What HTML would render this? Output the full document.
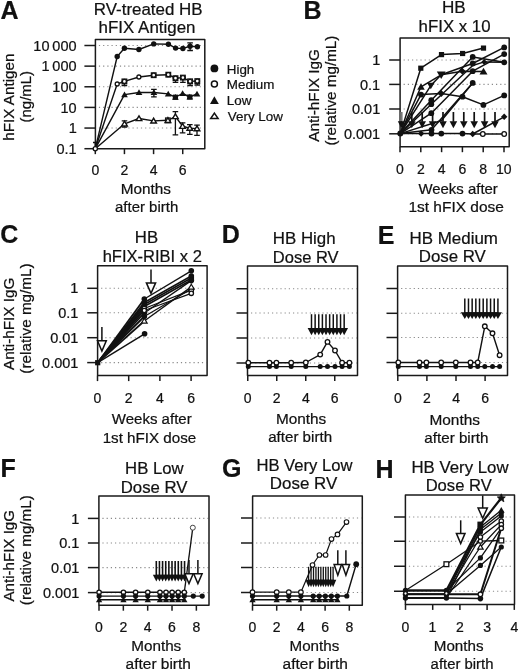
<!DOCTYPE html><html><head><meta charset="utf-8"><style>html,body{margin:0;padding:0;background:#fff;}svg{display:block;will-change:transform;} text{stroke:#111;stroke-width:0.22px;} svg{font-family:"Liberation Sans",sans-serif;}</style></head><body>
<svg width="520" height="672" viewBox="0 0 520 672">
<rect width="520" height="672" fill="#fff"/>
<text x="0.52" y="19.1" font-size="25" font-weight="bold" fill="#111">A</text>
<text x="303.51" y="18.8" font-size="25" font-weight="bold" fill="#111">B</text>
<text x="0.20" y="242.9" font-size="25" font-weight="bold" fill="#111">C</text>
<text x="221.71" y="243.2" font-size="25" font-weight="bold" fill="#111">D</text>
<text x="377.81" y="243.7" font-size="25" font-weight="bold" fill="#111">E</text>
<text x="0.61" y="477" font-size="25" font-weight="bold" fill="#111">F</text>
<text x="221.90" y="477.2" font-size="25" font-weight="bold" fill="#111">G</text>
<text x="375.61" y="478" font-size="25" font-weight="bold" fill="#111">H</text>
<line x1="98.9" y1="45.5" x2="204.0" y2="45.5" stroke="#8a8a8a" stroke-width="1.1" stroke-dasharray="1.2 3"/>
<line x1="98.9" y1="66.14" x2="204.0" y2="66.14" stroke="#8a8a8a" stroke-width="1.1" stroke-dasharray="1.2 3"/>
<line x1="98.9" y1="86.78" x2="204.0" y2="86.78" stroke="#8a8a8a" stroke-width="1.1" stroke-dasharray="1.2 3"/>
<line x1="98.9" y1="107.42" x2="204.0" y2="107.42" stroke="#8a8a8a" stroke-width="1.1" stroke-dasharray="1.2 3"/>
<line x1="98.9" y1="128.06" x2="204.0" y2="128.06" stroke="#8a8a8a" stroke-width="1.1" stroke-dasharray="1.2 3"/>
<rect x="95.4" y="39.5" width="109.4" height="109.15" fill="none" stroke="#1a1a1a" stroke-width="1.5" stroke-linejoin="round"/>
<line x1="84.4" y1="45.5" x2="95.4" y2="45.5" stroke="#1a1a1a" stroke-width="1.5"/>
<text x="33.33" y="50.60" font-size="14.50" fill="#111">10 000</text>
<line x1="84.4" y1="66.14" x2="95.4" y2="66.14" stroke="#1a1a1a" stroke-width="1.5"/>
<text x="41.42" y="71.24" font-size="14.50" fill="#111">1 000</text>
<line x1="84.4" y1="86.78" x2="95.4" y2="86.78" stroke="#1a1a1a" stroke-width="1.5"/>
<text x="52.37" y="91.88" font-size="14.50" fill="#111">100</text>
<line x1="84.4" y1="107.42" x2="95.4" y2="107.42" stroke="#1a1a1a" stroke-width="1.5"/>
<text x="60.45" y="112.52" font-size="14.50" fill="#111">10</text>
<line x1="84.4" y1="128.06" x2="95.4" y2="128.06" stroke="#1a1a1a" stroke-width="1.5"/>
<text x="68.64" y="133.16" font-size="14.50" fill="#111">1</text>
<line x1="84.4" y1="148.7" x2="95.4" y2="148.7" stroke="#1a1a1a" stroke-width="1.5"/>
<text x="56.53" y="153.80" font-size="14.50" fill="#111">0.1</text>
<line x1="95.3" y1="148.65" x2="95.3" y2="154.15" stroke="#1a1a1a" stroke-width="1.5"/>
<text x="91.40" y="175.40" font-size="14.00" fill="#111">0</text>
<line x1="124.44" y1="148.65" x2="124.44" y2="154.15" stroke="#1a1a1a" stroke-width="1.5"/>
<text x="120.55" y="175.40" font-size="14.00" fill="#111">2</text>
<line x1="153.57999999999998" y1="148.65" x2="153.57999999999998" y2="154.15" stroke="#1a1a1a" stroke-width="1.5"/>
<text x="149.73" y="175.40" font-size="14.00" fill="#111">4</text>
<line x1="182.72" y1="148.65" x2="182.72" y2="154.15" stroke="#1a1a1a" stroke-width="1.5"/>
<text x="178.78" y="175.40" font-size="14.00" fill="#111">6</text>
<text x="93.80" y="14.80" font-size="16.93" font-weight="normal" fill="#111">RV-treated HB</text>
<text x="98.61" y="32.70" font-size="16.93" font-weight="normal" fill="#111">hFIX Antigen</text>
<text x="120.63" y="194.30" font-size="15.34" font-weight="normal" fill="#111">Months</text>
<text x="115.06" y="212.30" font-size="14.96" font-weight="normal" fill="#111">after birth</text>
<text transform="translate(13.50,140.67) rotate(-90)" font-size="15.23" font-weight="normal" fill="#111">hFIX Antigen</text>
<text transform="translate(30.80,122.43) rotate(-90)" font-size="14.93" font-weight="normal" fill="#111">(ng/mL)</text>
<line x1="403.6" y1="60" x2="508.4" y2="60" stroke="#8a8a8a" stroke-width="1.1" stroke-dasharray="1.2 3"/>
<line x1="403.6" y1="84.4" x2="508.4" y2="84.4" stroke="#8a8a8a" stroke-width="1.1" stroke-dasharray="1.2 3"/>
<line x1="403.6" y1="109.0" x2="508.4" y2="109.0" stroke="#8a8a8a" stroke-width="1.1" stroke-dasharray="1.2 3"/>
<line x1="403.6" y1="133.8" x2="508.4" y2="133.8" stroke="#8a8a8a" stroke-width="1.1" stroke-dasharray="1.2 3"/>
<rect x="400.1" y="37.9" width="109.09999999999997" height="108.79999999999998" fill="none" stroke="#1a1a1a" stroke-width="1.5" stroke-linejoin="round"/>
<line x1="389.2" y1="60" x2="400.1" y2="60" stroke="#1a1a1a" stroke-width="1.5"/>
<text x="372.14" y="65.10" font-size="14.50" fill="#111">1</text>
<line x1="389.2" y1="84.4" x2="400.1" y2="84.4" stroke="#1a1a1a" stroke-width="1.5"/>
<text x="360.03" y="89.50" font-size="14.50" fill="#111">0.1</text>
<line x1="389.2" y1="109.0" x2="400.1" y2="109.0" stroke="#1a1a1a" stroke-width="1.5"/>
<text x="351.99" y="114.10" font-size="14.50" fill="#111">0.01</text>
<line x1="389.2" y1="133.8" x2="400.1" y2="133.8" stroke="#1a1a1a" stroke-width="1.5"/>
<text x="343.90" y="138.90" font-size="14.50" fill="#111">0.001</text>
<line x1="400.0" y1="146.7" x2="400.0" y2="152.2" stroke="#1a1a1a" stroke-width="1.5"/>
<text x="396.10" y="173.80" font-size="14.00" fill="#111">0</text>
<line x1="420.8" y1="146.7" x2="420.8" y2="152.2" stroke="#1a1a1a" stroke-width="1.5"/>
<text x="416.92" y="173.80" font-size="14.00" fill="#111">2</text>
<line x1="441.6" y1="146.7" x2="441.6" y2="152.2" stroke="#1a1a1a" stroke-width="1.5"/>
<text x="437.75" y="173.80" font-size="14.00" fill="#111">4</text>
<line x1="462.4" y1="146.7" x2="462.4" y2="152.2" stroke="#1a1a1a" stroke-width="1.5"/>
<text x="458.46" y="173.80" font-size="14.00" fill="#111">6</text>
<line x1="483.2" y1="146.7" x2="483.2" y2="152.2" stroke="#1a1a1a" stroke-width="1.5"/>
<text x="479.31" y="173.80" font-size="14.00" fill="#111">8</text>
<line x1="504.0" y1="146.7" x2="504.0" y2="152.2" stroke="#1a1a1a" stroke-width="1.5"/>
<text x="495.97" y="173.80" font-size="14.00" fill="#111">10</text>
<text x="441.89" y="13.30" font-size="17.13" font-weight="normal" fill="#111">HB</text>
<text x="418.62" y="32.10" font-size="16.82" font-weight="normal" fill="#111">hFIX x 10</text>
<text x="418.43" y="194.00" font-size="14.95" font-weight="normal" fill="#111">Weeks after</text>
<text x="408.44" y="211.50" font-size="15.48" font-weight="normal" fill="#111">1st hFIX dose</text>
<text transform="translate(318.60,141.64) rotate(-90)" font-size="15.30" font-weight="normal" fill="#111">Anti-hFIX IgG</text>
<text transform="translate(335.50,145.55) rotate(-90)" font-size="15.23" font-weight="normal" fill="#111">(relative mg/mL)</text>
<line x1="101.1" y1="288.3" x2="206.29999999999998" y2="288.3" stroke="#8a8a8a" stroke-width="1.1" stroke-dasharray="1.2 3"/>
<line x1="101.1" y1="312.8" x2="206.29999999999998" y2="312.8" stroke="#8a8a8a" stroke-width="1.1" stroke-dasharray="1.2 3"/>
<line x1="101.1" y1="337.7" x2="206.29999999999998" y2="337.7" stroke="#8a8a8a" stroke-width="1.1" stroke-dasharray="1.2 3"/>
<line x1="101.1" y1="362.6" x2="206.29999999999998" y2="362.6" stroke="#8a8a8a" stroke-width="1.1" stroke-dasharray="1.2 3"/>
<rect x="97.6" y="265.8" width="109.5" height="109.80000000000001" fill="none" stroke="#1a1a1a" stroke-width="1.5" stroke-linejoin="round"/>
<line x1="87.2" y1="288.3" x2="97.6" y2="288.3" stroke="#1a1a1a" stroke-width="1.5"/>
<text x="70.34" y="293.40" font-size="14.50" fill="#111">1</text>
<line x1="87.2" y1="312.8" x2="97.6" y2="312.8" stroke="#1a1a1a" stroke-width="1.5"/>
<text x="58.23" y="317.90" font-size="14.50" fill="#111">0.1</text>
<line x1="87.2" y1="337.7" x2="97.6" y2="337.7" stroke="#1a1a1a" stroke-width="1.5"/>
<text x="50.19" y="342.80" font-size="14.50" fill="#111">0.01</text>
<line x1="87.2" y1="362.6" x2="97.6" y2="362.6" stroke="#1a1a1a" stroke-width="1.5"/>
<text x="42.10" y="367.70" font-size="14.50" fill="#111">0.001</text>
<line x1="97.5" y1="375.6" x2="97.5" y2="381.1" stroke="#1a1a1a" stroke-width="1.5"/>
<text x="93.60" y="402.80" font-size="14.00" fill="#111">0</text>
<line x1="128.7" y1="375.6" x2="128.7" y2="381.1" stroke="#1a1a1a" stroke-width="1.5"/>
<text x="124.81" y="402.80" font-size="14.00" fill="#111">2</text>
<line x1="159.9" y1="375.6" x2="159.9" y2="381.1" stroke="#1a1a1a" stroke-width="1.5"/>
<text x="156.05" y="402.80" font-size="14.00" fill="#111">4</text>
<line x1="191.1" y1="375.6" x2="191.1" y2="381.1" stroke="#1a1a1a" stroke-width="1.5"/>
<text x="187.16" y="402.80" font-size="14.00" fill="#111">6</text>
<text x="134.82" y="243.00" font-size="16.73" font-weight="normal" fill="#111">HB</text>
<text x="102.64" y="261.50" font-size="16.55" font-weight="normal" fill="#111">hFIX-RIBI x 2</text>
<text x="111.82" y="424.20" font-size="15.03" font-weight="normal" fill="#111">Weeks after</text>
<text x="102.66" y="442.70" font-size="15.18" font-weight="normal" fill="#111">1st hFIX dose</text>
<text transform="translate(13.80,370.04) rotate(-90)" font-size="15.25" font-weight="normal" fill="#111">Anti-hFIX IgG</text>
<text transform="translate(30.80,373.66) rotate(-90)" font-size="15.28" font-weight="normal" fill="#111">(relative mg/mL)</text>
<line x1="251.0" y1="288.75" x2="356.7" y2="288.75" stroke="#8a8a8a" stroke-width="1.1" stroke-dasharray="1.2 3"/>
<line x1="251.0" y1="313" x2="356.7" y2="313" stroke="#8a8a8a" stroke-width="1.1" stroke-dasharray="1.2 3"/>
<line x1="251.0" y1="338" x2="356.7" y2="338" stroke="#8a8a8a" stroke-width="1.1" stroke-dasharray="1.2 3"/>
<line x1="251.0" y1="363" x2="356.7" y2="363" stroke="#8a8a8a" stroke-width="1.1" stroke-dasharray="1.2 3"/>
<rect x="247.5" y="266" width="110.0" height="109.39999999999998" fill="none" stroke="#1a1a1a" stroke-width="1.5" stroke-linejoin="round"/>
<line x1="236.5" y1="288.75" x2="247.5" y2="288.75" stroke="#1a1a1a" stroke-width="1.5"/>
<line x1="236.5" y1="313" x2="247.5" y2="313" stroke="#1a1a1a" stroke-width="1.5"/>
<line x1="236.5" y1="338" x2="247.5" y2="338" stroke="#1a1a1a" stroke-width="1.5"/>
<line x1="236.5" y1="363" x2="247.5" y2="363" stroke="#1a1a1a" stroke-width="1.5"/>
<line x1="247.75" y1="375.4" x2="247.75" y2="380.9" stroke="#1a1a1a" stroke-width="1.5"/>
<text x="243.85" y="402.90" font-size="14.00" fill="#111">0</text>
<line x1="276.75" y1="375.4" x2="276.75" y2="380.9" stroke="#1a1a1a" stroke-width="1.5"/>
<text x="272.87" y="402.90" font-size="14.00" fill="#111">2</text>
<line x1="305.75" y1="375.4" x2="305.75" y2="380.9" stroke="#1a1a1a" stroke-width="1.5"/>
<text x="301.90" y="402.90" font-size="14.00" fill="#111">4</text>
<line x1="334.75" y1="375.4" x2="334.75" y2="380.9" stroke="#1a1a1a" stroke-width="1.5"/>
<text x="330.81" y="402.90" font-size="14.00" fill="#111">6</text>
<text x="272.81" y="243.90" font-size="16.88" font-weight="normal" fill="#111">HB High</text>
<text x="272.84" y="262.80" font-size="16.52" font-weight="normal" fill="#111">Dose RV</text>
<text x="276.03" y="424.20" font-size="15.34" font-weight="normal" fill="#111">Months</text>
<text x="268.16" y="442.40" font-size="15.13" font-weight="normal" fill="#111">after birth</text>
<line x1="401.1" y1="288.5" x2="506.7" y2="288.5" stroke="#8a8a8a" stroke-width="1.1" stroke-dasharray="1.2 3"/>
<line x1="401.1" y1="313.3" x2="506.7" y2="313.3" stroke="#8a8a8a" stroke-width="1.1" stroke-dasharray="1.2 3"/>
<line x1="401.1" y1="337.5" x2="506.7" y2="337.5" stroke="#8a8a8a" stroke-width="1.1" stroke-dasharray="1.2 3"/>
<line x1="401.1" y1="362.5" x2="506.7" y2="362.5" stroke="#8a8a8a" stroke-width="1.1" stroke-dasharray="1.2 3"/>
<rect x="397.6" y="266.1" width="109.89999999999998" height="109.5" fill="none" stroke="#1a1a1a" stroke-width="1.5" stroke-linejoin="round"/>
<line x1="386.5" y1="288.5" x2="397.6" y2="288.5" stroke="#1a1a1a" stroke-width="1.5"/>
<line x1="386.5" y1="313.3" x2="397.6" y2="313.3" stroke="#1a1a1a" stroke-width="1.5"/>
<line x1="386.5" y1="337.5" x2="397.6" y2="337.5" stroke="#1a1a1a" stroke-width="1.5"/>
<line x1="386.5" y1="362.5" x2="397.6" y2="362.5" stroke="#1a1a1a" stroke-width="1.5"/>
<line x1="397.8" y1="375.6" x2="397.8" y2="381.1" stroke="#1a1a1a" stroke-width="1.5"/>
<text x="393.90" y="403.00" font-size="14.00" fill="#111">0</text>
<line x1="426.90000000000003" y1="375.6" x2="426.90000000000003" y2="381.1" stroke="#1a1a1a" stroke-width="1.5"/>
<text x="423.02" y="403.00" font-size="14.00" fill="#111">2</text>
<line x1="456.0" y1="375.6" x2="456.0" y2="381.1" stroke="#1a1a1a" stroke-width="1.5"/>
<text x="452.15" y="403.00" font-size="14.00" fill="#111">4</text>
<line x1="485.1" y1="375.6" x2="485.1" y2="381.1" stroke="#1a1a1a" stroke-width="1.5"/>
<text x="481.16" y="403.00" font-size="14.00" fill="#111">6</text>
<text x="409.50" y="243.80" font-size="16.93" font-weight="normal" fill="#111">HB Medium</text>
<text x="418.71" y="262.30" font-size="16.88" font-weight="normal" fill="#111">Dose RV</text>
<text x="429.48" y="424.50" font-size="15.42" font-weight="normal" fill="#111">Months</text>
<text x="424.35" y="442.50" font-size="15.18" font-weight="normal" fill="#111">after birth</text>
<line x1="102.4" y1="518.4" x2="208.2" y2="518.4" stroke="#8a8a8a" stroke-width="1.1" stroke-dasharray="1.2 3"/>
<line x1="102.4" y1="543" x2="208.2" y2="543" stroke="#8a8a8a" stroke-width="1.1" stroke-dasharray="1.2 3"/>
<line x1="102.4" y1="567.6" x2="208.2" y2="567.6" stroke="#8a8a8a" stroke-width="1.1" stroke-dasharray="1.2 3"/>
<line x1="102.4" y1="592.6" x2="208.2" y2="592.6" stroke="#8a8a8a" stroke-width="1.1" stroke-dasharray="1.2 3"/>
<rect x="98.9" y="496.1" width="110.1" height="109.10000000000002" fill="none" stroke="#1a1a1a" stroke-width="1.5" stroke-linejoin="round"/>
<line x1="87.9" y1="518.4" x2="98.9" y2="518.4" stroke="#1a1a1a" stroke-width="1.5"/>
<text x="71.24" y="523.50" font-size="14.50" fill="#111">1</text>
<line x1="87.9" y1="543" x2="98.9" y2="543" stroke="#1a1a1a" stroke-width="1.5"/>
<text x="59.13" y="548.10" font-size="14.50" fill="#111">0.1</text>
<line x1="87.9" y1="567.6" x2="98.9" y2="567.6" stroke="#1a1a1a" stroke-width="1.5"/>
<text x="51.09" y="572.70" font-size="14.50" fill="#111">0.01</text>
<line x1="87.9" y1="592.6" x2="98.9" y2="592.6" stroke="#1a1a1a" stroke-width="1.5"/>
<text x="43.00" y="597.70" font-size="14.50" fill="#111">0.001</text>
<line x1="99.0" y1="605.2" x2="99.0" y2="610.7" stroke="#1a1a1a" stroke-width="1.5"/>
<text x="95.10" y="632.00" font-size="14.00" fill="#111">0</text>
<line x1="123.34" y1="605.2" x2="123.34" y2="610.7" stroke="#1a1a1a" stroke-width="1.5"/>
<text x="119.45" y="632.00" font-size="14.00" fill="#111">2</text>
<line x1="147.68" y1="605.2" x2="147.68" y2="610.7" stroke="#1a1a1a" stroke-width="1.5"/>
<text x="143.83" y="632.00" font-size="14.00" fill="#111">4</text>
<line x1="172.01999999999998" y1="605.2" x2="172.01999999999998" y2="610.7" stroke="#1a1a1a" stroke-width="1.5"/>
<text x="168.08" y="632.00" font-size="14.00" fill="#111">6</text>
<line x1="196.36" y1="605.2" x2="196.36" y2="610.7" stroke="#1a1a1a" stroke-width="1.5"/>
<text x="192.48" y="632.00" font-size="14.00" fill="#111">8</text>
<text x="125.12" y="473.50" font-size="16.71" font-weight="normal" fill="#111">HB Low</text>
<text x="120.72" y="492.80" font-size="16.78" font-weight="normal" fill="#111">Dose RV</text>
<text x="131.24" y="651.25" font-size="15.26" font-weight="normal" fill="#111">Months</text>
<text x="125.59" y="668.75" font-size="15.48" font-weight="normal" fill="#111">after birth</text>
<text transform="translate(13.80,601.54) rotate(-90)" font-size="15.12" font-weight="normal" fill="#111">Anti-hFIX IgG</text>
<text transform="translate(31.00,605.15) rotate(-90)" font-size="15.23" font-weight="normal" fill="#111">(relative mg/mL)</text>
<line x1="256.1" y1="518" x2="361.5" y2="518" stroke="#8a8a8a" stroke-width="1.1" stroke-dasharray="1.2 3"/>
<line x1="256.1" y1="543" x2="361.5" y2="543" stroke="#8a8a8a" stroke-width="1.1" stroke-dasharray="1.2 3"/>
<line x1="256.1" y1="567.5" x2="361.5" y2="567.5" stroke="#8a8a8a" stroke-width="1.1" stroke-dasharray="1.2 3"/>
<line x1="256.1" y1="592.5" x2="361.5" y2="592.5" stroke="#8a8a8a" stroke-width="1.1" stroke-dasharray="1.2 3"/>
<rect x="252.6" y="496.1" width="109.70000000000002" height="109.10000000000002" fill="none" stroke="#1a1a1a" stroke-width="1.5" stroke-linejoin="round"/>
<line x1="241" y1="518" x2="252.6" y2="518" stroke="#1a1a1a" stroke-width="1.5"/>
<line x1="241" y1="543" x2="252.6" y2="543" stroke="#1a1a1a" stroke-width="1.5"/>
<line x1="241" y1="567.5" x2="252.6" y2="567.5" stroke="#1a1a1a" stroke-width="1.5"/>
<line x1="241" y1="592.5" x2="252.6" y2="592.5" stroke="#1a1a1a" stroke-width="1.5"/>
<line x1="252.5" y1="605.2" x2="252.5" y2="610.7" stroke="#1a1a1a" stroke-width="1.5"/>
<text x="248.60" y="632.00" font-size="14.00" fill="#111">0</text>
<line x1="276.7" y1="605.2" x2="276.7" y2="610.7" stroke="#1a1a1a" stroke-width="1.5"/>
<text x="272.81" y="632.00" font-size="14.00" fill="#111">2</text>
<line x1="300.9" y1="605.2" x2="300.9" y2="610.7" stroke="#1a1a1a" stroke-width="1.5"/>
<text x="297.05" y="632.00" font-size="14.00" fill="#111">4</text>
<line x1="325.1" y1="605.2" x2="325.1" y2="610.7" stroke="#1a1a1a" stroke-width="1.5"/>
<text x="321.16" y="632.00" font-size="14.00" fill="#111">6</text>
<line x1="349.3" y1="605.2" x2="349.3" y2="610.7" stroke="#1a1a1a" stroke-width="1.5"/>
<text x="345.42" y="632.00" font-size="14.00" fill="#111">8</text>
<text x="256.43" y="470.70" font-size="16.63" font-weight="normal" fill="#111">HB Very Low</text>
<text x="269.80" y="489.00" font-size="16.93" font-weight="normal" fill="#111">Dose RV</text>
<text x="289.50" y="651.25" font-size="15.18" font-weight="normal" fill="#111">Months</text>
<text x="282.59" y="668.75" font-size="15.48" font-weight="normal" fill="#111">after birth</text>
<line x1="408.9" y1="517" x2="513.7" y2="517" stroke="#8a8a8a" stroke-width="1.1" stroke-dasharray="1.2 3"/>
<line x1="408.9" y1="541.25" x2="513.7" y2="541.25" stroke="#8a8a8a" stroke-width="1.1" stroke-dasharray="1.2 3"/>
<line x1="408.9" y1="566.25" x2="513.7" y2="566.25" stroke="#8a8a8a" stroke-width="1.1" stroke-dasharray="1.2 3"/>
<line x1="408.9" y1="591.25" x2="513.7" y2="591.25" stroke="#8a8a8a" stroke-width="1.1" stroke-dasharray="1.2 3"/>
<rect x="405.4" y="495" width="109.10000000000002" height="109.39999999999998" fill="none" stroke="#1a1a1a" stroke-width="1.5" stroke-linejoin="round"/>
<line x1="394" y1="517" x2="405.4" y2="517" stroke="#1a1a1a" stroke-width="1.5"/>
<line x1="394" y1="541.25" x2="405.4" y2="541.25" stroke="#1a1a1a" stroke-width="1.5"/>
<line x1="394" y1="566.25" x2="405.4" y2="566.25" stroke="#1a1a1a" stroke-width="1.5"/>
<line x1="394" y1="591.25" x2="405.4" y2="591.25" stroke="#1a1a1a" stroke-width="1.5"/>
<line x1="405.5" y1="604.4" x2="405.5" y2="609.9" stroke="#1a1a1a" stroke-width="1.5"/>
<text x="401.60" y="632.00" font-size="14.00" fill="#111">0</text>
<line x1="432.7" y1="604.4" x2="432.7" y2="609.9" stroke="#1a1a1a" stroke-width="1.5"/>
<text x="428.62" y="632.00" font-size="14.00" fill="#111">1</text>
<line x1="459.9" y1="604.4" x2="459.9" y2="609.9" stroke="#1a1a1a" stroke-width="1.5"/>
<text x="456.01" y="632.00" font-size="14.00" fill="#111">2</text>
<line x1="487.1" y1="604.4" x2="487.1" y2="609.9" stroke="#1a1a1a" stroke-width="1.5"/>
<text x="483.25" y="632.00" font-size="14.00" fill="#111">3</text>
<line x1="514.3" y1="604.4" x2="514.3" y2="609.9" stroke="#1a1a1a" stroke-width="1.5"/>
<text x="510.45" y="632.00" font-size="14.00" fill="#111">4</text>
<text x="411.51" y="472.50" font-size="16.79" font-weight="normal" fill="#111">HB Very Low</text>
<text x="425.63" y="490.60" font-size="16.60" font-weight="normal" fill="#111">Dose RV</text>
<text x="433.75" y="651.00" font-size="15.18" font-weight="normal" fill="#111">Months</text>
<text x="430.62" y="668.50" font-size="14.88" font-weight="normal" fill="#111">after birth</text>
<polyline points="95.30,148.70 117.20,56.50 124.40,48.30 138.90,49.50 153.70,43.90 168.40,44.20 175.60,48.10 182.90,48.50 190.10,46.20 197.40,46.70" fill="none" stroke="#111" stroke-width="1.4" stroke-linejoin="round"/>
<polyline points="95.30,148.70 117.20,84.00 124.40,81.40 138.90,77.00 153.70,75.20 168.30,74.70 175.50,78.20 182.90,77.60 190.10,81.30 197.30,81.10" fill="none" stroke="#111" stroke-width="1.4" stroke-linejoin="round"/>
<polyline points="95.30,148.70 124.50,94.60 139.00,92.50 153.90,92.50 168.20,93.90 175.40,97.20 182.60,93.50 189.80,97.00 197.00,93.90" fill="none" stroke="#111" stroke-width="1.4" stroke-linejoin="round"/>
<polyline points="95.30,148.70 124.50,123.80 139.00,118.50 153.60,120.90 167.90,120.30 175.40,116.50 182.60,126.20 189.80,128.10 197.00,128.60" fill="none" stroke="#111" stroke-width="1.4" stroke-linejoin="round"/>
<path d="M95.30,142.50V148.70M93.00,142.50H97.60M93.00,148.70H97.60" stroke="#111" stroke-width="1.3" fill="none"/>
<path d="M153.90,89.40V96.80M151.10,89.40H156.70M151.10,96.80H156.70" stroke="#111" stroke-width="1.3" fill="none"/>
<path d="M124.50,120.90V127.10M121.70,120.90H127.30M121.70,127.10H127.30" stroke="#111" stroke-width="1.3" fill="none"/>
<path d="M175.40,111.70V134.80M172.60,111.70H178.20M172.60,134.80H178.20" stroke="#111" stroke-width="1.3" fill="none"/>
<path d="M182.60,122.80V132.90M179.80,122.80H185.40M179.80,132.90H185.40" stroke="#111" stroke-width="1.3" fill="none"/>
<path d="M189.80,124.70V134.30M187.00,124.70H192.60M187.00,134.30H192.60" stroke="#111" stroke-width="1.3" fill="none"/>
<path d="M197.00,125.20V135.30M194.20,125.20H199.80M194.20,135.30H199.80" stroke="#111" stroke-width="1.3" fill="none"/>
<path d="M190.10,42.80V50.50M187.30,42.80H192.90M187.30,50.50H192.90" stroke="#111" stroke-width="1.3" fill="none"/>
<path d="M124.40,81.40V85.50M121.60,81.40H127.20M121.60,85.50H127.20" stroke="#111" stroke-width="1.3" fill="none"/>
<path d="M175.50,78.20V82.30M172.70,78.20H178.30M172.70,82.30H178.30" stroke="#111" stroke-width="1.3" fill="none"/>
<path d="M182.90,77.60V82.30M180.10,77.60H185.70M180.10,82.30H185.70" stroke="#111" stroke-width="1.3" fill="none"/>
<path d="M190.10,81.30V85.50M187.30,81.30H192.90M187.30,85.50H192.90" stroke="#111" stroke-width="1.3" fill="none"/>
<path d="M197.30,81.10V85.00M194.50,81.10H200.10M194.50,85.00H200.10" stroke="#111" stroke-width="1.3" fill="none"/>
<circle cx="117.20" cy="56.50" r="2.7" fill="#111"/>
<circle cx="124.40" cy="48.30" r="2.7" fill="#111"/>
<circle cx="138.90" cy="49.50" r="2.7" fill="#111"/>
<circle cx="153.70" cy="43.90" r="2.7" fill="#111"/>
<circle cx="168.40" cy="44.20" r="2.7" fill="#111"/>
<circle cx="175.60" cy="48.10" r="2.7" fill="#111"/>
<circle cx="182.90" cy="48.50" r="2.7" fill="#111"/>
<circle cx="190.10" cy="46.20" r="2.7" fill="#111"/>
<circle cx="197.40" cy="46.70" r="2.7" fill="#111"/>
<circle cx="117.20" cy="84.00" r="2.0" fill="#fff" stroke="#111" stroke-width="1.3"/>
<rect x="122.10" y="79.10" width="4.6" height="4.6" fill="#fff" stroke="#111" stroke-width="1.3"/>
<circle cx="124.40" cy="81.40" r="2.0" fill="#fff" stroke="#111" stroke-width="1.3"/>
<circle cx="138.90" cy="77.00" r="2.0" fill="#fff" stroke="#111" stroke-width="1.3"/>
<rect x="151.40" y="72.90" width="4.6" height="4.6" fill="#fff" stroke="#111" stroke-width="1.3"/>
<circle cx="153.70" cy="75.20" r="2.0" fill="#fff" stroke="#111" stroke-width="1.3"/>
<rect x="166.00" y="72.40" width="4.6" height="4.6" fill="#fff" stroke="#111" stroke-width="1.3"/>
<circle cx="168.30" cy="74.70" r="2.0" fill="#fff" stroke="#111" stroke-width="1.3"/>
<rect x="173.20" y="75.90" width="4.6" height="4.6" fill="#fff" stroke="#111" stroke-width="1.3"/>
<circle cx="175.50" cy="78.20" r="2.0" fill="#fff" stroke="#111" stroke-width="1.3"/>
<rect x="180.60" y="75.30" width="4.6" height="4.6" fill="#fff" stroke="#111" stroke-width="1.3"/>
<circle cx="182.90" cy="77.60" r="2.0" fill="#fff" stroke="#111" stroke-width="1.3"/>
<rect x="187.80" y="79.00" width="4.6" height="4.6" fill="#fff" stroke="#111" stroke-width="1.3"/>
<circle cx="190.10" cy="81.30" r="2.0" fill="#fff" stroke="#111" stroke-width="1.3"/>
<rect x="195.00" y="78.80" width="4.6" height="4.6" fill="#fff" stroke="#111" stroke-width="1.3"/>
<circle cx="197.30" cy="81.10" r="2.0" fill="#fff" stroke="#111" stroke-width="1.3"/>
<path d="M124.50,91.40L127.86,97.16L121.14,97.16Z" fill="#111"/>
<path d="M139.00,89.30L142.36,95.06L135.64,95.06Z" fill="#111"/>
<path d="M153.90,89.30L157.26,95.06L150.54,95.06Z" fill="#111"/>
<path d="M168.20,90.70L171.56,96.46L164.84,96.46Z" fill="#111"/>
<rect x="172.80" y="94.60" width="5.2" height="5.2" fill="#111"/>
<path d="M175.40,94.00L178.76,99.76L172.04,99.76Z" fill="#111"/>
<path d="M182.60,90.30L185.96,96.06L179.24,96.06Z" fill="#111"/>
<rect x="187.20" y="94.40" width="5.2" height="5.2" fill="#111"/>
<path d="M189.80,93.80L193.16,99.56L186.44,99.56Z" fill="#111"/>
<path d="M197.00,90.70L200.36,96.46L193.64,96.46Z" fill="#111"/>
<path d="M124.50,121.10L127.33,125.96L121.67,125.96Z" fill="#fff" stroke="#111" stroke-width="1.4" stroke-linejoin="miter"/>
<path d="M139.00,115.80L141.84,120.66L136.16,120.66Z" fill="#fff" stroke="#111" stroke-width="1.4" stroke-linejoin="miter"/>
<path d="M153.60,118.20L156.44,123.06L150.76,123.06Z" fill="#fff" stroke="#111" stroke-width="1.4" stroke-linejoin="miter"/>
<rect x="165.60" y="118.00" width="4.6" height="4.6" fill="#fff" stroke="#111" stroke-width="1.3"/>
<path d="M167.90,117.60L170.74,122.46L165.06,122.46Z" fill="#fff" stroke="#111" stroke-width="1.4" stroke-linejoin="miter"/>
<path d="M175.40,113.80L178.24,118.66L172.56,118.66Z" fill="#fff" stroke="#111" stroke-width="1.4" stroke-linejoin="miter"/>
<path d="M182.60,123.50L185.44,128.36L179.76,128.36Z" fill="#fff" stroke="#111" stroke-width="1.4" stroke-linejoin="miter"/>
<path d="M189.80,125.40L192.64,130.26L186.97,130.26Z" fill="#fff" stroke="#111" stroke-width="1.4" stroke-linejoin="miter"/>
<path d="M197.00,125.90L199.84,130.76L194.16,130.76Z" fill="#fff" stroke="#111" stroke-width="1.4" stroke-linejoin="miter"/>
<circle cx="95.30" cy="148.70" r="2.1" fill="#fff" stroke="#111" stroke-width="1.3"/>
<circle cx="214.4" cy="68.4" r="3.9" fill="#111"/>
<circle cx="214.4" cy="84" r="3.0" fill="#fff" stroke="#111" stroke-width="1.5"/>
<path d="M214.4,96.3L218.8,103.9L210,103.9Z" fill="#111"/>
<path d="M214.4,113.2L218.1,118.6L210.7,118.6Z" fill="#fff" stroke="#111" stroke-width="1.5"/>
<text x="226.79" y="73.60" font-size="13.40" font-weight="normal" fill="#111">High</text>
<text x="226.79" y="89.00" font-size="13.40" font-weight="normal" fill="#111">Medium</text>
<text x="226.79" y="104.90" font-size="13.40" font-weight="normal" fill="#111">Low</text>
<text x="227.83" y="120.50" font-size="13.40" font-weight="normal" fill="#111">Very Low</text>
<polyline points="400.30,133.60 420.80,68.20 441.50,54.60 462.60,53.50 483.50,48.10" fill="none" stroke="#111" stroke-width="1.5" stroke-linejoin="round"/>
<polyline points="400.30,133.60 421.00,86.80 441.20,74.80 462.30,71.20 483.50,71.50" fill="none" stroke="#111" stroke-width="1.5" stroke-linejoin="round"/>
<polyline points="400.30,133.60 430.80,85.60 441.20,74.80 472.70,63.50 504.20,47.40" fill="none" stroke="#111" stroke-width="1.5" stroke-linejoin="round"/>
<polyline points="400.30,133.60 421.00,94.60 441.30,93.50 462.50,96.70 483.40,104.90 504.20,95.40" fill="none" stroke="#111" stroke-width="1.5" stroke-linejoin="round"/>
<polyline points="400.30,133.60 431.30,100.20 472.70,56.90 504.20,62.30" fill="none" stroke="#111" stroke-width="1.5" stroke-linejoin="round"/>
<polyline points="400.30,133.60 431.30,104.20 472.70,65.50 484.20,61.90 504.20,62.30" fill="none" stroke="#111" stroke-width="1.5" stroke-linejoin="round"/>
<polyline points="400.30,133.60 431.30,113.20 472.70,71.20 504.20,54.10" fill="none" stroke="#111" stroke-width="1.5" stroke-linejoin="round"/>
<polyline points="400.30,133.60 431.50,129.80 472.70,82.90" fill="none" stroke="#111" stroke-width="1.5" stroke-linejoin="round"/>
<polyline points="400.30,133.60 421.10,133.60 431.50,133.60 441.30,133.60 462.50,133.60 472.70,134.00 482.80,134.00 504.20,134.00" fill="none" stroke="#111" stroke-width="1.5" stroke-linejoin="round"/>
<polyline points="472.70,134.00 504.20,116.80" fill="none" stroke="#111" stroke-width="1.5" stroke-linejoin="round"/>
<polyline points="400.30,133.60 441.50,120.50 472.70,82.90" fill="none" stroke="#111" stroke-width="1.5" stroke-linejoin="round"/>
<rect x="400.2" y="112" width="2.4" height="10" fill="#777"/>
<path d="M411.80,112.00V121.80" stroke="#111" stroke-width="1.7"/>
<path d="M408.00,121.30L415.60,121.30L411.80,128.30Z" fill="#111"/>
<path d="M422.20,112.00V121.80" stroke="#111" stroke-width="1.7"/>
<path d="M418.40,121.30L426.00,121.30L422.20,128.30Z" fill="#111"/>
<path d="M432.60,112.00V121.80" stroke="#111" stroke-width="1.7"/>
<path d="M428.80,121.30L436.40,121.30L432.60,128.30Z" fill="#111"/>
<path d="M443.00,112.00V121.80" stroke="#111" stroke-width="1.7"/>
<path d="M439.20,121.30L446.80,121.30L443.00,128.30Z" fill="#111"/>
<path d="M453.40,112.00V121.80" stroke="#111" stroke-width="1.7"/>
<path d="M449.60,121.30L457.20,121.30L453.40,128.30Z" fill="#111"/>
<path d="M463.80,112.00V121.80" stroke="#111" stroke-width="1.7"/>
<path d="M460.00,121.30L467.60,121.30L463.80,128.30Z" fill="#111"/>
<path d="M474.20,112.00V121.80" stroke="#111" stroke-width="1.7"/>
<path d="M470.40,121.30L478.00,121.30L474.20,128.30Z" fill="#111"/>
<path d="M484.60,112.00V121.80" stroke="#111" stroke-width="1.7"/>
<path d="M480.80,121.30L488.40,121.30L484.60,128.30Z" fill="#111"/>
<path d="M495.00,112.00V121.80" stroke="#111" stroke-width="1.7"/>
<path d="M491.20,121.30L498.80,121.30L495.00,128.30Z" fill="#111"/>
<path d="M401.30,121.00V121.80" stroke="#111" stroke-width="1.5"/>
<path d="M397.80,121.30L404.80,121.30L401.30,128.30Z" fill="#111"/>
<rect x="418.20" y="65.60" width="5.2" height="5.2" fill="#111"/>
<rect x="438.90" y="52.00" width="5.2" height="5.2" fill="#111"/>
<rect x="460.00" y="50.90" width="5.2" height="5.2" fill="#111"/>
<rect x="480.90" y="45.50" width="5.2" height="5.2" fill="#111"/>
<path d="M421.00,83.20L424.78,89.68L417.22,89.68Z" fill="#111"/>
<path d="M430.80,89.20L434.58,82.72L427.02,82.72Z" fill="#111"/>
<path d="M441.20,79.00L445.61,71.44L436.79,71.44Z" fill="#111"/>
<path d="M483.50,67.70L487.49,74.54L479.51,74.54Z" fill="#111"/>
<path d="M462.30,67.80L465.70,71.20L462.30,74.60L458.90,71.20Z" fill="#111"/>
<path d="M441.30,90.10L444.70,93.50L441.30,96.90L437.90,93.50Z" fill="#111"/>
<path d="M484.20,58.90L487.20,61.90L484.20,64.90L481.20,61.90Z" fill="#111"/>
<circle cx="504.20" cy="47.40" r="2.9" fill="#111"/>
<circle cx="504.20" cy="54.10" r="2.9" fill="#111"/>
<circle cx="504.20" cy="62.30" r="2.9" fill="#111"/>
<circle cx="504.20" cy="95.40" r="2.9" fill="#111"/>
<circle cx="472.70" cy="56.90" r="2.9" fill="#111"/>
<circle cx="472.70" cy="63.50" r="2.9" fill="#111"/>
<circle cx="472.70" cy="71.20" r="2.9" fill="#111"/>
<circle cx="472.70" cy="82.90" r="2.9" fill="#111"/>
<circle cx="462.50" cy="96.70" r="2.9" fill="#111"/>
<circle cx="483.40" cy="104.90" r="2.9" fill="#111"/>
<circle cx="421.00" cy="94.60" r="2.9" fill="#111"/>
<circle cx="431.30" cy="100.20" r="2.9" fill="#111"/>
<circle cx="431.30" cy="104.20" r="2.9" fill="#111"/>
<circle cx="431.30" cy="113.20" r="2.9" fill="#111"/>
<circle cx="431.50" cy="129.80" r="2.9" fill="#111"/>
<circle cx="431.50" cy="133.60" r="2.9" fill="#111"/>
<circle cx="441.30" cy="133.60" r="2.9" fill="#111"/>
<circle cx="462.50" cy="133.60" r="2.9" fill="#111"/>
<path d="M421.10,130.40L424.30,133.60L421.10,136.80L417.90,133.60Z" fill="#111"/>
<path d="M472.70,130.80L475.90,134.00L472.70,137.20L469.50,134.00Z" fill="#111"/>
<path d="M504.20,113.60L507.40,116.80L504.20,120.00L501.00,116.80Z" fill="#111"/>
<circle cx="482.80" cy="134.00" r="2.3" fill="#fff" stroke="#111" stroke-width="1.3"/>
<circle cx="504.20" cy="134.00" r="2.3" fill="#fff" stroke="#111" stroke-width="1.3"/>
<circle cx="400.30" cy="133.60" r="3.0" fill="#111"/>
<polyline points="97.70,362.70 144.30,299.00" fill="none" stroke="#111" stroke-width="1.8" stroke-linejoin="round"/>
<polyline points="97.70,362.70 144.30,302.50" fill="none" stroke="#111" stroke-width="1.8" stroke-linejoin="round"/>
<polyline points="97.70,362.70 144.30,304.50" fill="none" stroke="#111" stroke-width="1.8" stroke-linejoin="round"/>
<polyline points="97.70,362.70 144.30,306.50" fill="none" stroke="#111" stroke-width="1.8" stroke-linejoin="round"/>
<polyline points="97.70,362.70 144.30,308.50" fill="none" stroke="#111" stroke-width="1.8" stroke-linejoin="round"/>
<polyline points="97.70,362.70 144.30,313.00" fill="none" stroke="#111" stroke-width="1.8" stroke-linejoin="round"/>
<polyline points="97.70,362.70 144.30,310.50" fill="none" stroke="#111" stroke-width="1.8" stroke-linejoin="round"/>
<polyline points="97.70,362.70 144.30,321.00" fill="none" stroke="#111" stroke-width="1.8" stroke-linejoin="round"/>
<polyline points="97.70,362.70 144.30,316.50" fill="none" stroke="#111" stroke-width="1.8" stroke-linejoin="round"/>
<polyline points="144.30,299.00 191.30,270.80" fill="none" stroke="#111" stroke-width="1.4" stroke-linejoin="round"/>
<polyline points="144.30,302.50 191.30,276.00" fill="none" stroke="#111" stroke-width="1.6" stroke-linejoin="round"/>
<polyline points="144.30,304.50 191.30,278.00" fill="none" stroke="#111" stroke-width="1.6" stroke-linejoin="round"/>
<polyline points="144.30,306.50 191.30,280.00" fill="none" stroke="#111" stroke-width="1.6" stroke-linejoin="round"/>
<polyline points="144.30,308.50 191.30,290.20" fill="none" stroke="#111" stroke-width="1.3" stroke-linejoin="round"/>
<polyline points="144.30,313.00 191.30,280.60" fill="none" stroke="#111" stroke-width="1.3" stroke-linejoin="round"/>
<polyline points="144.30,310.50 191.30,293.30" fill="none" stroke="#111" stroke-width="1.3" stroke-linejoin="round"/>
<polyline points="144.30,321.00 191.30,286.90" fill="none" stroke="#111" stroke-width="1.3" stroke-linejoin="round"/>
<polyline points="144.30,316.50 191.30,289.00" fill="none" stroke="#111" stroke-width="1.2" stroke-linejoin="round"/>
<polyline points="97.70,362.70 144.60,333.80" fill="none" stroke="#111" stroke-width="1.4" stroke-linejoin="round"/>
<circle cx="144.30" cy="299.00" r="2.8" fill="#111"/>
<circle cx="191.30" cy="270.80" r="2.8" fill="#111"/>
<circle cx="144.30" cy="302.50" r="2.8" fill="#111"/>
<circle cx="191.30" cy="276.00" r="2.8" fill="#111"/>
<circle cx="144.30" cy="304.50" r="2.8" fill="#111"/>
<circle cx="191.30" cy="278.00" r="2.8" fill="#111"/>
<circle cx="144.30" cy="306.50" r="2.8" fill="#111"/>
<circle cx="191.30" cy="280.00" r="2.8" fill="#111"/>
<circle cx="144.30" cy="313.00" r="2.8" fill="#111"/>
<circle cx="191.30" cy="280.60" r="2.8" fill="#111"/>
<circle cx="144.30" cy="316.50" r="2.8" fill="#111"/>
<circle cx="191.30" cy="289.00" r="2.8" fill="#111"/>
<circle cx="144.30" cy="308.50" r="2.1" fill="#fff" stroke="#111" stroke-width="1.3"/>
<circle cx="191.30" cy="290.20" r="2.2" fill="#fff" stroke="#111" stroke-width="1.3"/>
<circle cx="144.30" cy="310.50" r="2.1" fill="#fff" stroke="#111" stroke-width="1.3"/>
<circle cx="191.30" cy="293.30" r="2.2" fill="#fff" stroke="#111" stroke-width="1.3"/>
<path d="M144.30,318.30L147.14,323.16L141.47,323.16Z" fill="#fff" stroke="#111" stroke-width="1.2" stroke-linejoin="miter"/>
<path d="M191.30,284.20L194.14,289.06L188.47,289.06Z" fill="#fff" stroke="#111" stroke-width="1.2" stroke-linejoin="miter"/>
<circle cx="144.60" cy="333.80" r="2.8" fill="#111"/>
<rect x="95.10" y="360.10" width="5.2" height="5.2" fill="#111"/>
<path d="M101.90,327.00V340.70" stroke="#111" stroke-width="1.5"/>
<path d="M97.50,340.70L106.30,340.70L101.90,351.10Z" fill="#fff" stroke="#111" stroke-width="1.5" stroke-linejoin="miter"/>
<path d="M151.00,269.60V282.90" stroke="#111" stroke-width="1.5"/>
<path d="M146.40,282.90L155.60,282.90L151.00,293.30Z" fill="#fff" stroke="#111" stroke-width="1.5" stroke-linejoin="miter"/>
<polyline points="248.30,366.60 269.50,366.60 276.40,366.60 291.20,366.60 305.80,366.60 320.20,366.60 327.50,366.60 335.00,366.60 342.10,366.60 349.40,366.60" fill="none" stroke="#111" stroke-width="1.4" stroke-linejoin="round"/>
<polyline points="248.30,362.70 269.50,362.70 276.40,362.70 291.20,362.70 305.80,362.50 320.20,354.60 327.50,341.90 335.00,350.50 342.10,362.70 349.40,362.70" fill="none" stroke="#111" stroke-width="1.4" stroke-linejoin="round"/>
<circle cx="248.30" cy="366.60" r="2.5" fill="#111"/>
<circle cx="269.50" cy="366.60" r="2.5" fill="#111"/>
<circle cx="276.40" cy="366.60" r="2.5" fill="#111"/>
<circle cx="291.20" cy="366.60" r="2.5" fill="#111"/>
<circle cx="305.80" cy="366.60" r="2.5" fill="#111"/>
<circle cx="320.20" cy="366.60" r="2.5" fill="#111"/>
<circle cx="327.50" cy="366.60" r="2.5" fill="#111"/>
<circle cx="335.00" cy="366.60" r="2.5" fill="#111"/>
<circle cx="342.10" cy="366.60" r="2.5" fill="#111"/>
<circle cx="349.40" cy="366.60" r="2.5" fill="#111"/>
<circle cx="248.30" cy="362.70" r="2.3" fill="#fff" stroke="#111" stroke-width="1.3"/>
<circle cx="269.50" cy="362.70" r="2.3" fill="#fff" stroke="#111" stroke-width="1.3"/>
<circle cx="276.40" cy="362.70" r="2.3" fill="#fff" stroke="#111" stroke-width="1.3"/>
<circle cx="291.20" cy="362.70" r="2.3" fill="#fff" stroke="#111" stroke-width="1.3"/>
<circle cx="305.80" cy="362.50" r="2.3" fill="#fff" stroke="#111" stroke-width="1.3"/>
<circle cx="320.20" cy="354.60" r="2.3" fill="#fff" stroke="#111" stroke-width="1.3"/>
<circle cx="327.50" cy="341.90" r="2.3" fill="#fff" stroke="#111" stroke-width="1.3"/>
<circle cx="335.00" cy="350.50" r="2.3" fill="#fff" stroke="#111" stroke-width="1.3"/>
<circle cx="342.10" cy="362.70" r="2.3" fill="#fff" stroke="#111" stroke-width="1.3"/>
<circle cx="349.40" cy="362.70" r="2.3" fill="#fff" stroke="#111" stroke-width="1.3"/>
<path d="M311.50,314.2V329" stroke="#111" stroke-width="1.5"/>
<path d="M315.13,314.2V329" stroke="#111" stroke-width="1.5"/>
<path d="M318.76,314.2V329" stroke="#111" stroke-width="1.5"/>
<path d="M322.39,314.2V329" stroke="#111" stroke-width="1.5"/>
<path d="M326.02,314.2V329" stroke="#111" stroke-width="1.5"/>
<path d="M329.65,314.2V329" stroke="#111" stroke-width="1.5"/>
<path d="M333.28,314.2V329" stroke="#111" stroke-width="1.5"/>
<path d="M336.91,314.2V329" stroke="#111" stroke-width="1.5"/>
<path d="M340.54,314.2V329" stroke="#111" stroke-width="1.5"/>
<path d="M344.17,314.2V329" stroke="#111" stroke-width="1.5"/>
<path d="M307.60,328L315.40,328L311.50,335.2Z" fill="#111"/>
<path d="M311.23,328L319.03,328L315.13,335.2Z" fill="#111"/>
<path d="M314.86,328L322.66,328L318.76,335.2Z" fill="#111"/>
<path d="M318.49,328L326.29,328L322.39,335.2Z" fill="#111"/>
<path d="M322.12,328L329.92,328L326.02,335.2Z" fill="#111"/>
<path d="M325.75,328L333.55,328L329.65,335.2Z" fill="#111"/>
<path d="M329.38,328L337.18,328L333.28,335.2Z" fill="#111"/>
<path d="M333.01,328L340.81,328L336.91,335.2Z" fill="#111"/>
<path d="M336.64,328L344.44,328L340.54,335.2Z" fill="#111"/>
<path d="M340.27,328L348.07,328L344.17,335.2Z" fill="#111"/>
<polyline points="398.30,366.60 419.50,366.60 426.40,366.60 441.20,366.60 455.80,366.60 470.50,366.60 477.70,366.60 484.80,366.60 492.50,366.60 499.60,366.60" fill="none" stroke="#111" stroke-width="1.4" stroke-linejoin="round"/>
<polyline points="398.30,362.50 419.50,362.50 426.40,362.50 441.20,362.50 455.80,362.50 470.50,362.50 477.70,362.50 484.80,326.30 492.50,333.30 499.60,355.20" fill="none" stroke="#111" stroke-width="1.4" stroke-linejoin="round"/>
<circle cx="398.30" cy="366.60" r="2.5" fill="#111"/>
<circle cx="419.50" cy="366.60" r="2.5" fill="#111"/>
<circle cx="426.40" cy="366.60" r="2.5" fill="#111"/>
<circle cx="441.20" cy="366.60" r="2.5" fill="#111"/>
<circle cx="455.80" cy="366.60" r="2.5" fill="#111"/>
<circle cx="470.50" cy="366.60" r="2.5" fill="#111"/>
<circle cx="477.70" cy="366.60" r="2.5" fill="#111"/>
<circle cx="484.80" cy="366.60" r="2.5" fill="#111"/>
<circle cx="492.50" cy="366.60" r="2.5" fill="#111"/>
<circle cx="499.60" cy="366.60" r="2.5" fill="#111"/>
<circle cx="398.30" cy="362.50" r="2.3" fill="#fff" stroke="#111" stroke-width="1.3"/>
<circle cx="419.50" cy="362.50" r="2.3" fill="#fff" stroke="#111" stroke-width="1.3"/>
<circle cx="426.40" cy="362.50" r="2.3" fill="#fff" stroke="#111" stroke-width="1.3"/>
<circle cx="441.20" cy="362.50" r="2.3" fill="#fff" stroke="#111" stroke-width="1.3"/>
<circle cx="455.80" cy="362.50" r="2.3" fill="#fff" stroke="#111" stroke-width="1.3"/>
<circle cx="470.50" cy="362.50" r="2.3" fill="#fff" stroke="#111" stroke-width="1.3"/>
<circle cx="477.70" cy="362.50" r="2.3" fill="#fff" stroke="#111" stroke-width="1.3"/>
<circle cx="484.80" cy="326.30" r="2.3" fill="#fff" stroke="#111" stroke-width="1.3"/>
<circle cx="492.50" cy="333.30" r="2.3" fill="#fff" stroke="#111" stroke-width="1.3"/>
<circle cx="499.60" cy="355.20" r="2.3" fill="#fff" stroke="#111" stroke-width="1.3"/>
<path d="M464.80,298.5V313" stroke="#111" stroke-width="1.5"/>
<path d="M468.48,298.5V313" stroke="#111" stroke-width="1.5"/>
<path d="M472.16,298.5V313" stroke="#111" stroke-width="1.5"/>
<path d="M475.84,298.5V313" stroke="#111" stroke-width="1.5"/>
<path d="M479.52,298.5V313" stroke="#111" stroke-width="1.5"/>
<path d="M483.20,298.5V313" stroke="#111" stroke-width="1.5"/>
<path d="M486.88,298.5V313" stroke="#111" stroke-width="1.5"/>
<path d="M490.56,298.5V313" stroke="#111" stroke-width="1.5"/>
<path d="M494.24,298.5V313" stroke="#111" stroke-width="1.5"/>
<path d="M497.92,298.5V313" stroke="#111" stroke-width="1.5"/>
<path d="M460.80,312.2L468.80,312.2L464.80,319.1Z" fill="#111"/>
<path d="M464.48,312.2L472.48,312.2L468.48,319.1Z" fill="#111"/>
<path d="M468.16,312.2L476.16,312.2L472.16,319.1Z" fill="#111"/>
<path d="M471.84,312.2L479.84,312.2L475.84,319.1Z" fill="#111"/>
<path d="M475.52,312.2L483.52,312.2L479.52,319.1Z" fill="#111"/>
<path d="M479.20,312.2L487.20,312.2L483.20,319.1Z" fill="#111"/>
<path d="M482.88,312.2L490.88,312.2L486.88,319.1Z" fill="#111"/>
<path d="M486.56,312.2L494.56,312.2L490.56,319.1Z" fill="#111"/>
<path d="M490.24,312.2L498.24,312.2L494.24,319.1Z" fill="#111"/>
<path d="M493.92,312.2L501.92,312.2L497.92,319.1Z" fill="#111"/>
<polyline points="99.10,599.80 123.44,599.80 135.61,599.80 147.78,599.80 159.95,599.80 166.03,599.80 172.12,599.80 178.20,599.80 184.29,599.80" fill="none" stroke="#111" stroke-width="1.4" stroke-linejoin="round"/>
<polyline points="99.10,596.10 123.44,596.10 135.61,596.10 147.78,596.10 159.95,596.10 166.03,596.10 172.12,596.10 178.20,596.10 184.29,596.10 193.30,596.10 202.20,596.10" fill="none" stroke="#111" stroke-width="1.4" stroke-linejoin="round"/>
<polyline points="99.10,592.30 123.44,592.30 135.61,592.30 147.78,592.30 159.95,592.30 166.03,592.30 172.12,592.30 178.20,592.30 184.29,592.30" fill="none" stroke="#111" stroke-width="1.4" stroke-linejoin="round"/>
<polyline points="184.29,592.30 192.80,527.70" fill="none" stroke="#111" stroke-width="1.3" stroke-linejoin="round"/>
<path d="M99.10,596.80L102.25,602.20L95.95,602.20Z" fill="#111"/>
<path d="M123.44,596.80L126.59,602.20L120.29,602.20Z" fill="#111"/>
<path d="M135.61,596.80L138.76,602.20L132.46,602.20Z" fill="#111"/>
<path d="M147.78,596.80L150.93,602.20L144.63,602.20Z" fill="#111"/>
<path d="M159.95,596.80L163.10,602.20L156.80,602.20Z" fill="#111"/>
<path d="M166.03,596.80L169.19,602.20L162.88,602.20Z" fill="#111"/>
<path d="M172.12,596.80L175.27,602.20L168.97,602.20Z" fill="#111"/>
<path d="M178.20,596.80L181.35,602.20L175.05,602.20Z" fill="#111"/>
<path d="M184.29,596.80L187.44,602.20L181.14,602.20Z" fill="#111"/>
<circle cx="99.10" cy="592.30" r="2.2" fill="#fff" stroke="#111" stroke-width="1.3"/>
<circle cx="123.44" cy="592.30" r="2.2" fill="#fff" stroke="#111" stroke-width="1.3"/>
<circle cx="135.61" cy="592.30" r="2.2" fill="#fff" stroke="#111" stroke-width="1.3"/>
<circle cx="147.78" cy="592.30" r="2.2" fill="#fff" stroke="#111" stroke-width="1.3"/>
<circle cx="159.95" cy="592.30" r="2.2" fill="#fff" stroke="#111" stroke-width="1.3"/>
<circle cx="166.03" cy="592.30" r="2.2" fill="#fff" stroke="#111" stroke-width="1.3"/>
<circle cx="172.12" cy="592.30" r="2.2" fill="#fff" stroke="#111" stroke-width="1.3"/>
<circle cx="178.20" cy="592.30" r="2.2" fill="#fff" stroke="#111" stroke-width="1.3"/>
<circle cx="184.29" cy="592.30" r="2.2" fill="#fff" stroke="#111" stroke-width="1.3"/>
<circle cx="99.10" cy="596.10" r="2.6" fill="#111"/>
<circle cx="123.44" cy="596.10" r="2.6" fill="#111"/>
<circle cx="135.61" cy="596.10" r="2.6" fill="#111"/>
<circle cx="147.78" cy="596.10" r="2.6" fill="#111"/>
<circle cx="159.95" cy="596.10" r="2.6" fill="#111"/>
<circle cx="166.03" cy="596.10" r="2.6" fill="#111"/>
<circle cx="172.12" cy="596.10" r="2.6" fill="#111"/>
<circle cx="178.20" cy="596.10" r="2.6" fill="#111"/>
<circle cx="184.29" cy="596.10" r="2.6" fill="#111"/>
<circle cx="193.30" cy="596.10" r="2.6" fill="#111"/>
<circle cx="202.20" cy="596.10" r="2.6" fill="#111"/>
<circle cx="192.8" cy="527.7" r="2.5" fill="#fff" stroke="#444" stroke-width="1"/>
<path d="M156.30,561V575.5" stroke="#111" stroke-width="1.6"/>
<path d="M159.44,561V575.5" stroke="#111" stroke-width="1.6"/>
<path d="M162.58,561V575.5" stroke="#111" stroke-width="1.6"/>
<path d="M165.72,561V575.5" stroke="#111" stroke-width="1.6"/>
<path d="M168.86,561V575.5" stroke="#111" stroke-width="1.6"/>
<path d="M172.00,561V575.5" stroke="#111" stroke-width="1.6"/>
<path d="M175.14,561V575.5" stroke="#111" stroke-width="1.6"/>
<path d="M178.28,561V575.5" stroke="#111" stroke-width="1.6"/>
<path d="M181.42,561V575.5" stroke="#111" stroke-width="1.6"/>
<path d="M184.56,561V575.5" stroke="#111" stroke-width="1.6"/>
<path d="M152.90,574.8L159.70,574.8L156.30,581.6Z" fill="#111"/>
<path d="M156.04,574.8L162.84,574.8L159.44,581.6Z" fill="#111"/>
<path d="M159.18,574.8L165.98,574.8L162.58,581.6Z" fill="#111"/>
<path d="M162.32,574.8L169.12,574.8L165.72,581.6Z" fill="#111"/>
<path d="M165.46,574.8L172.26,574.8L168.86,581.6Z" fill="#111"/>
<path d="M168.60,574.8L175.40,574.8L172.00,581.6Z" fill="#111"/>
<path d="M171.74,574.8L178.54,574.8L175.14,581.6Z" fill="#111"/>
<path d="M174.88,574.8L181.68,574.8L178.28,581.6Z" fill="#111"/>
<path d="M178.02,574.8L184.82,574.8L181.42,581.6Z" fill="#111"/>
<path d="M181.16,574.8L187.96,574.8L184.56,581.6Z" fill="#111"/>
<path d="M189.00,560.00V573.70" stroke="#111" stroke-width="1.5"/>
<path d="M184.80,573.70L193.20,573.70L189.00,583.50Z" fill="#fff" stroke="#111" stroke-width="1.5" stroke-linejoin="miter"/>
<path d="M197.90,560.00V573.70" stroke="#111" stroke-width="1.5"/>
<path d="M193.70,573.70L202.10,573.70L197.90,583.50Z" fill="#fff" stroke="#111" stroke-width="1.5" stroke-linejoin="miter"/>
<polyline points="252.50,599.80 276.70,599.80 288.80,599.80 300.90,599.80 313.20,599.80 319.20,599.80 325.30,599.80 331.30,599.80 337.40,599.80" fill="none" stroke="#111" stroke-width="1.4" stroke-linejoin="round"/>
<polyline points="252.50,596.00 276.70,596.00 288.80,596.00 300.90,596.00 313.20,596.00 319.20,596.00 325.30,596.00 331.30,596.00 337.40,596.00 346.80,596.00 356.20,564.20" fill="none" stroke="#111" stroke-width="1.4" stroke-linejoin="round"/>
<polyline points="252.50,592.20 276.70,592.20 288.80,592.20 300.90,592.20 312.50,565.00 319.40,555.00 325.60,555.00 331.50,539.10 337.50,534.40 346.50,522.10" fill="none" stroke="#111" stroke-width="1.2" stroke-linejoin="round"/>
<path d="M252.50,596.80L255.65,602.20L249.35,602.20Z" fill="#111"/>
<path d="M276.70,596.80L279.85,602.20L273.55,602.20Z" fill="#111"/>
<path d="M288.80,596.80L291.95,602.20L285.65,602.20Z" fill="#111"/>
<path d="M300.90,596.80L304.05,602.20L297.75,602.20Z" fill="#111"/>
<path d="M313.20,596.80L316.35,602.20L310.05,602.20Z" fill="#111"/>
<path d="M319.20,596.80L322.35,602.20L316.05,602.20Z" fill="#111"/>
<path d="M325.30,596.80L328.45,602.20L322.15,602.20Z" fill="#111"/>
<path d="M331.30,596.80L334.45,602.20L328.15,602.20Z" fill="#111"/>
<path d="M337.40,596.80L340.55,602.20L334.25,602.20Z" fill="#111"/>
<circle cx="252.50" cy="592.20" r="2.3" fill="#fff" stroke="#111" stroke-width="1.1"/>
<circle cx="276.70" cy="592.20" r="2.3" fill="#fff" stroke="#111" stroke-width="1.1"/>
<circle cx="288.80" cy="592.20" r="2.3" fill="#fff" stroke="#111" stroke-width="1.1"/>
<circle cx="300.90" cy="592.20" r="2.3" fill="#fff" stroke="#111" stroke-width="1.1"/>
<circle cx="312.50" cy="565.00" r="2.3" fill="#fff" stroke="#111" stroke-width="1.1"/>
<circle cx="319.40" cy="555.00" r="2.3" fill="#fff" stroke="#111" stroke-width="1.1"/>
<circle cx="325.60" cy="555.00" r="2.3" fill="#fff" stroke="#111" stroke-width="1.1"/>
<circle cx="331.50" cy="539.10" r="2.3" fill="#fff" stroke="#111" stroke-width="1.1"/>
<circle cx="337.50" cy="534.40" r="2.3" fill="#fff" stroke="#111" stroke-width="1.1"/>
<circle cx="346.50" cy="522.10" r="2.3" fill="#fff" stroke="#111" stroke-width="1.1"/>
<circle cx="252.50" cy="596.00" r="2.6" fill="#111"/>
<circle cx="276.70" cy="596.00" r="2.6" fill="#111"/>
<circle cx="288.80" cy="596.00" r="2.6" fill="#111"/>
<circle cx="300.90" cy="596.00" r="2.6" fill="#111"/>
<circle cx="313.20" cy="596.00" r="2.6" fill="#111"/>
<circle cx="319.20" cy="596.00" r="2.6" fill="#111"/>
<circle cx="325.30" cy="596.00" r="2.6" fill="#111"/>
<circle cx="331.30" cy="596.00" r="2.6" fill="#111"/>
<circle cx="337.40" cy="596.00" r="2.6" fill="#111"/>
<circle cx="346.80" cy="596.00" r="2.6" fill="#111"/>
<circle cx="356.20" cy="564.20" r="2.9" fill="#111"/>
<path d="M308.60,566.8V581" stroke="#111" stroke-width="1.3"/>
<path d="M311.05,566.8V581" stroke="#111" stroke-width="1.3"/>
<path d="M313.50,566.8V581" stroke="#111" stroke-width="1.3"/>
<path d="M315.95,566.8V581" stroke="#111" stroke-width="1.3"/>
<path d="M318.40,566.8V581" stroke="#111" stroke-width="1.3"/>
<path d="M320.85,566.8V581" stroke="#111" stroke-width="1.3"/>
<path d="M323.30,566.8V581" stroke="#111" stroke-width="1.3"/>
<path d="M325.75,566.8V581" stroke="#111" stroke-width="1.3"/>
<path d="M328.20,566.8V581" stroke="#111" stroke-width="1.3"/>
<path d="M330.65,566.8V581" stroke="#111" stroke-width="1.3"/>
<path d="M333.10,566.8V581" stroke="#111" stroke-width="1.3"/>
<path d="M305.40,579.8L311.80,579.8L308.60,587.3Z" fill="#111"/>
<path d="M307.85,579.8L314.25,579.8L311.05,587.3Z" fill="#111"/>
<path d="M310.30,579.8L316.70,579.8L313.50,587.3Z" fill="#111"/>
<path d="M312.75,579.8L319.15,579.8L315.95,587.3Z" fill="#111"/>
<path d="M315.20,579.8L321.60,579.8L318.40,587.3Z" fill="#111"/>
<path d="M317.65,579.8L324.05,579.8L320.85,587.3Z" fill="#111"/>
<path d="M320.10,579.8L326.50,579.8L323.30,587.3Z" fill="#111"/>
<path d="M322.55,579.8L328.95,579.8L325.75,587.3Z" fill="#111"/>
<path d="M325.00,579.8L331.40,579.8L328.20,587.3Z" fill="#111"/>
<path d="M327.45,579.8L333.85,579.8L330.65,587.3Z" fill="#111"/>
<path d="M329.90,579.8L336.30,579.8L333.10,587.3Z" fill="#111"/>
<path d="M337.80,550.25V564.40" stroke="#111" stroke-width="1.5"/>
<path d="M334.10,564.40L341.50,564.40L337.80,575.20Z" fill="#fff" stroke="#111" stroke-width="1.5" stroke-linejoin="miter"/>
<path d="M345.90,550.25V564.40" stroke="#111" stroke-width="1.5"/>
<path d="M342.20,564.40L349.60,564.40L345.90,575.20Z" fill="#fff" stroke="#111" stroke-width="1.5" stroke-linejoin="miter"/>
<polyline points="405.50,590.50 446.40,590.50 480.40,524.60 501.30,498.00" fill="none" stroke="#111" stroke-width="2.2" stroke-linejoin="round"/>
<polyline points="405.50,594.30 446.40,594.30 480.40,527.00 501.30,510.20" fill="none" stroke="#111" stroke-width="1.4" stroke-linejoin="round"/>
<polyline points="405.50,598.00 446.40,598.00 480.40,529.50 501.30,513.00" fill="none" stroke="#111" stroke-width="1.4" stroke-linejoin="round"/>
<polyline points="405.50,590.50 446.40,590.50 480.40,532.00 501.30,516.00" fill="none" stroke="#111" stroke-width="1.4" stroke-linejoin="round"/>
<polyline points="405.50,594.30 446.40,594.30 480.40,537.00 501.30,521.00" fill="none" stroke="#111" stroke-width="1.3" stroke-linejoin="round"/>
<polyline points="405.50,598.00 446.40,598.00 480.40,547.00 501.30,524.60" fill="none" stroke="#111" stroke-width="1.3" stroke-linejoin="round"/>
<polyline points="405.50,590.50 446.40,590.50 480.40,557.90 501.30,528.20" fill="none" stroke="#111" stroke-width="1.3" stroke-linejoin="round"/>
<polyline points="405.50,594.30 446.40,594.30 480.40,565.40 501.30,547.00" fill="none" stroke="#111" stroke-width="1.3" stroke-linejoin="round"/>
<polyline points="405.50,590.50 446.40,564.20 480.40,541.20 501.30,540.50" fill="none" stroke="#111" stroke-width="1.3" stroke-linejoin="round"/>
<polyline points="405.50,594.30 446.40,594.30 480.40,594.30 501.30,528.20" fill="none" stroke="#111" stroke-width="2.0" stroke-linejoin="round"/>
<polyline points="405.50,598.00 446.40,598.00 480.40,598.60 501.30,547.00" fill="none" stroke="#111" stroke-width="1.5" stroke-linejoin="round"/>
<circle cx="405.50" cy="590.50" r="2.7" fill="#111"/>
<circle cx="446.40" cy="590.50" r="2.7" fill="#111"/>
<circle cx="405.50" cy="594.30" r="2.7" fill="#111"/>
<circle cx="446.40" cy="594.30" r="2.7" fill="#111"/>
<circle cx="405.50" cy="598.00" r="2.7" fill="#111"/>
<circle cx="446.40" cy="598.00" r="2.7" fill="#111"/>
<circle cx="405.50" cy="593.50" r="1.8" fill="#fff" stroke="#111" stroke-width="1.3"/>
<circle cx="446.40" cy="593.50" r="1.8" fill="#fff" stroke="#111" stroke-width="1.3"/>
<rect x="444.00" y="561.80" width="4.8" height="4.8" fill="#fff" stroke="#111" stroke-width="1.3"/>
<circle cx="480.40" cy="598.60" r="2.8" fill="#111"/>
<circle cx="480.40" cy="594.30" r="2.3" fill="#fff" stroke="#111" stroke-width="1.3"/>
<circle cx="480.40" cy="541.20" r="2.0" fill="#fff" stroke="#111" stroke-width="1.3"/>
<rect x="477.40" y="521.60" width="6.0" height="6.0" fill="#111"/>
<circle cx="480.40" cy="527.00" r="2.6" fill="#111"/>
<circle cx="480.40" cy="529.50" r="2.6" fill="#111"/>
<circle cx="480.40" cy="532.00" r="2.6" fill="#111"/>
<circle cx="480.40" cy="537.00" r="2.2" fill="#fff" stroke="#111" stroke-width="1.3"/>
<path d="M480.40,544.40L483.13,549.08L477.67,549.08Z" fill="#fff" stroke="#111" stroke-width="1.2" stroke-linejoin="miter"/>
<circle cx="480.40" cy="557.90" r="2.6" fill="#111"/>
<circle cx="480.40" cy="565.40" r="2.6" fill="#111"/>
<path d="M501.3,493.8L502.5,496.7L505.3,496.9L503.2,498.9L503.90000000000003,501.8L501.3,500.1L498.7,501.8L499.40000000000003,498.9L497.3,496.9L500.1,496.7Z" fill="#111" stroke="#111" stroke-width="0.8"/>
<path d="M501.30,507.00L504.66,512.76L497.94,512.76Z" fill="#111"/>
<circle cx="501.30" cy="513.00" r="2.6" fill="#111"/>
<circle cx="501.30" cy="516.00" r="2.6" fill="#111"/>
<circle cx="501.30" cy="521.00" r="2.2" fill="#fff" stroke="#111" stroke-width="1.3"/>
<circle cx="501.30" cy="524.60" r="2.2" fill="#fff" stroke="#111" stroke-width="1.3"/>
<circle cx="501.30" cy="528.20" r="2.2" fill="#fff" stroke="#111" stroke-width="1.3"/>
<circle cx="501.30" cy="547.00" r="2.6" fill="#111"/>
<rect x="498.90" y="538.10" width="4.8" height="4.8" fill="#fff" stroke="#111" stroke-width="1.3"/>
<path d="M460.70,520.30V533.40" stroke="#111" stroke-width="1.5"/>
<path d="M456.40,533.40L465.00,533.40L460.70,543.50Z" fill="#fff" stroke="#111" stroke-width="1.5" stroke-linejoin="miter"/>
<path d="M482.70,495.50V508.10" stroke="#111" stroke-width="1.5"/>
<path d="M478.10,508.10L487.30,508.10L482.70,518.20Z" fill="#fff" stroke="#111" stroke-width="1.5" stroke-linejoin="miter"/>
</svg></body></html>
